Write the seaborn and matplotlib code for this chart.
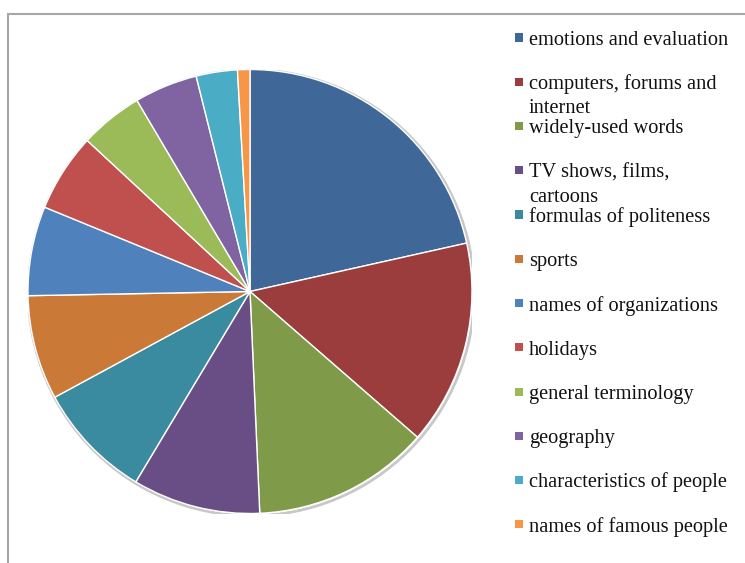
import matplotlib
matplotlib.use("Agg")
import matplotlib.pyplot as plt
import seaborn as sns
from matplotlib.patches import Circle, Rectangle

categories = [
    "emotions and evaluation",
    "computers, forums and\ninternet",
    "widely-used words",
    "TV shows, films,\ncartoons",
    "formulas of politeness",
    "sports",
    "names of organizations",
    "holidays",
    "general terminology",
    "geography",
    "characteristics of people",
    "names of famous people",
]
shares = [21.5, 14.9, 12.9, 9.3, 8.5, 7.6, 6.5, 5.7, 4.6, 4.6, 3.0, 0.9]
colors = [
    "#3F6899", "#9A3D3C", "#7F9A48", "#694E86", "#3A8AA0", "#CA7A36",
    "#4F81BD", "#C0504D", "#9BBB59", "#8064A2", "#4BACC6", "#F79646",
]

sns.set_theme(style="white")
plt.rcParams["font.family"] = ["Liberation Serif", "DejaVu Serif"]

W, H = 745, 563
fig = plt.figure(figsize=(W / 100, H / 100), dpi=100)
fig.patch.set_facecolor("white")

# chart frame (cut off at the right and bottom)
fig.add_artist(Rectangle((8 / W, -0.1), 1.2, (H - 14) / H + 0.1,
                         transform=fig.transFigure, fill=False,
                         edgecolor="#A6A6A6", linewidth=1.5))

# pie: centre (250, 291.5) px, radius 222 px
cx, cy, r = 250, 291.5, 222
ax = fig.add_axes([(cx - r) / W, (H - cy - r) / H, 2 * r / W, 2 * r / H])
ax.add_patch(Circle((0.006, -0.006), 1.004, facecolor="none",
                    edgecolor="#C8C8C8", linewidth=2.0, zorder=0))
ax.pie(shares, colors=sns.color_palette(colors), startangle=90,
       counterclock=False, radius=1,
       wedgeprops=dict(edgecolor="white", linewidth=1.0))
ax.set_xlim(-1, 1)
ax.set_ylim(-1, 1)
ax.axis("off")

# legend, one fixed-height slot per entry as in the original chart
base0, step, line_h = 45, 44.25, 24
for i, (lab, col) in enumerate(zip(categories, colors)):
    yb = base0 + step * i
    fig.add_artist(Rectangle((515 / W, 1 - (yb - 3.5) / H), 8 / W, 8 / H,
                             transform=fig.transFigure, facecolor=col,
                             edgecolor="none"))
    for k, line in enumerate(lab.split("\n")):
        fig.text(529 / W, 1 - (yb + line_h * k) / H, line, fontsize=14.7,
                 color="#111111", ha="left", va="baseline")

fig.savefig("out.png", dpi=100, facecolor="white")
